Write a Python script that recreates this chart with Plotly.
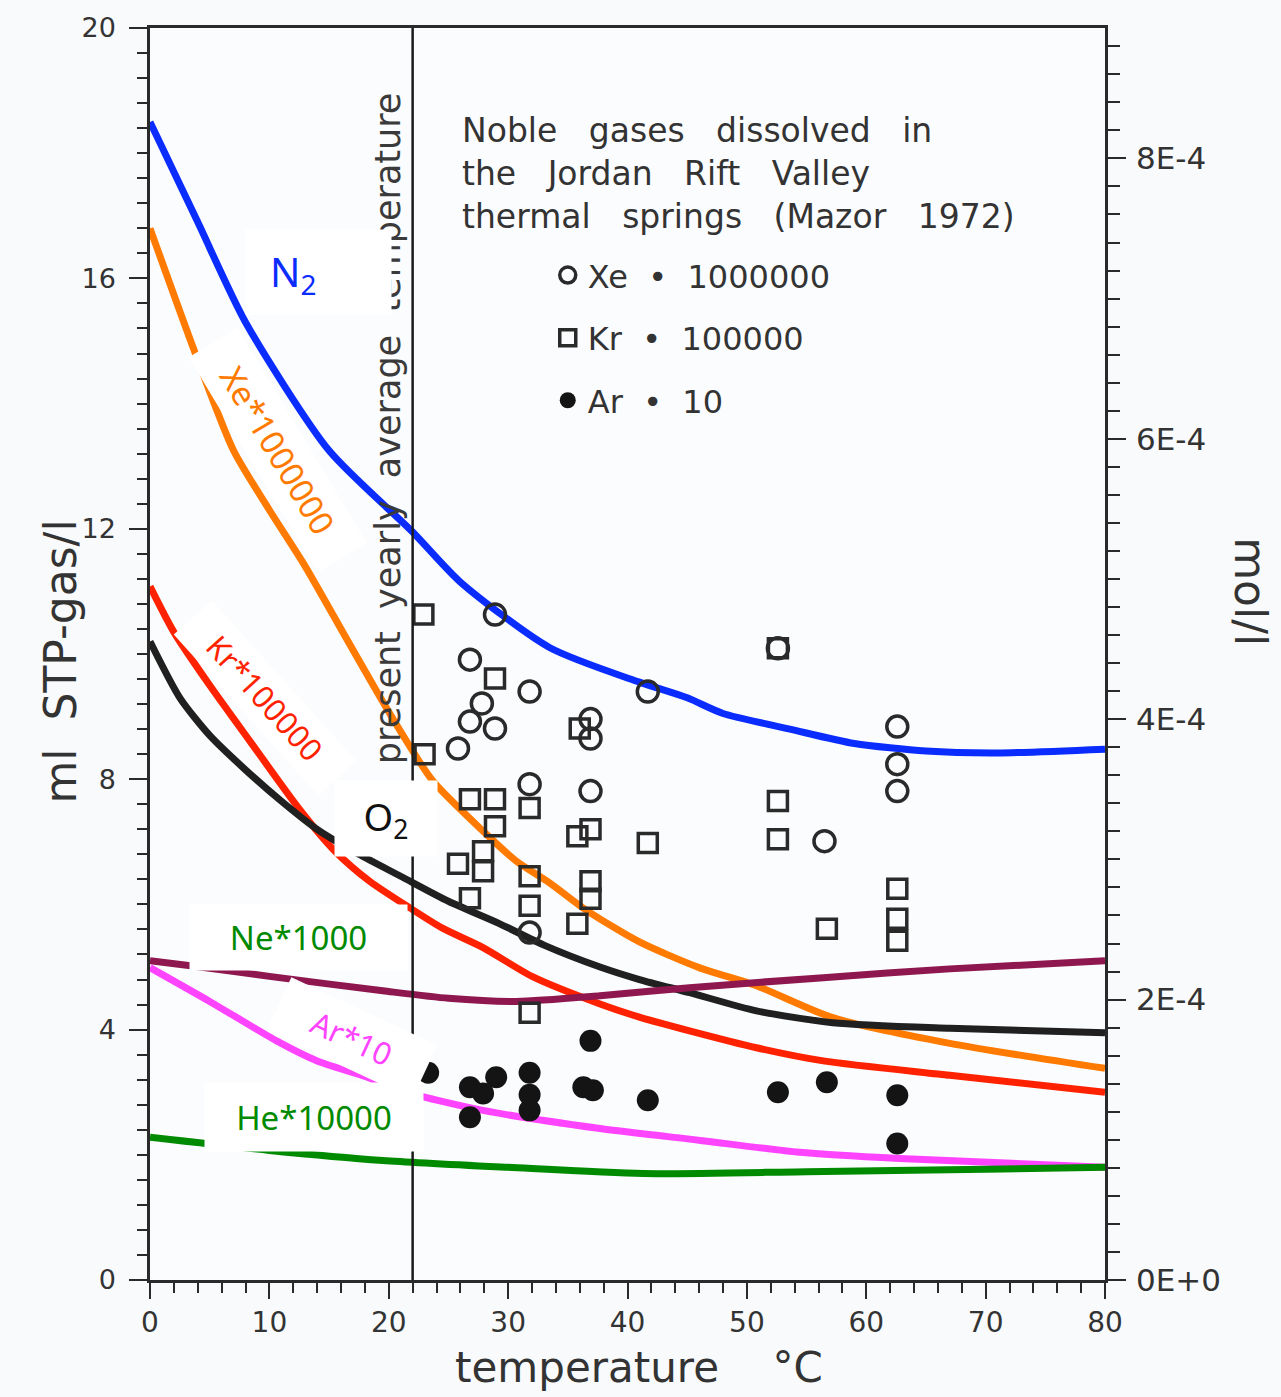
import plotly.graph_objects as go

# ---- equilibrium solubility curves (ml STP gas / l, scaled as labelled) ----
n2_t = [0, 4, 8, 15, 22, 26, 33.5, 41, 45, 48, 53.6, 59, 65, 71, 80]
n2_v = [18.5, 16.9, 15.3, 13.25, 11.95, 11.15, 10.1, 9.55, 9.3, 9.05, 8.8, 8.57, 8.45, 8.42, 8.48]

xe_t = [0, 3.8, 7, 10, 13, 16, 19, 21, 23.7, 27.9, 30.7, 33.5, 36.6, 41, 46, 50.8, 57.2, 67, 80]
xe_v = [16.8, 14.8, 13.25, 12.3, 11.4, 10.4, 9.4, 8.76, 7.97, 7.17, 6.69, 6.34, 5.9, 5.4, 4.99, 4.7, 4.19, 3.78, 3.38]

kr_t = [0, 2, 5, 8.4, 12.6, 15.5, 18.4, 21.8, 24.5, 27.9, 32, 37.7, 41, 45.2, 50.8, 56.4, 67, 80]
kr_v = [11.08, 10.35, 9.5, 8.6, 7.5, 6.85, 6.37, 5.94, 5.62, 5.31, 4.85, 4.41, 4.2, 3.98, 3.71, 3.5, 3.27, 3.0]

o2_t = [0, 2.5, 5, 8, 11, 14, 17.5, 21, 25, 29.3, 33, 37.7, 41, 45.2, 50.8, 57.2, 67, 80]
o2_v = [10.2, 9.3, 8.7, 8.15, 7.65, 7.2, 6.8, 6.45, 6.05, 5.69, 5.35, 5.0, 4.8, 4.59, 4.3, 4.11, 4.02, 3.95]

ne_t = [0, 3.4, 10, 19.5, 25, 30.7, 37.7, 45.2, 56.4, 67, 80]
ne_v = [5.1, 5.02, 4.85, 4.62, 4.5, 4.45, 4.54, 4.67, 4.83, 4.97, 5.1]

ar_t = [0, 5, 10.6, 14, 18.2, 20.9, 27.9, 37.7, 46.1, 54.4, 62.8, 80]
ar_v = [4.99, 4.45, 3.82, 3.5, 3.24, 3.03, 2.71, 2.42, 2.23, 2.04, 1.94, 1.8]

he_t = [0, 10, 19.5, 30, 41.3, 55, 70, 80]
he_v = [2.28, 2.07, 1.91, 1.8, 1.7, 1.73, 1.77, 1.8]

# ---- measured spring waters (Mazor 1972) ----
xe_obs_t = [28.9, 26.8, 31.8, 27.8, 26.8, 28.9, 25.8, 36.9, 36.9, 41.7, 36.9, 31.8, 31.8, 52.6, 62.6, 62.6, 62.6, 56.5]
xe_obs_v = [10.63, 9.91, 9.40, 9.21, 8.92, 8.81, 8.49, 8.96, 8.65, 9.40, 7.81, 7.92, 5.55, 10.09, 8.84, 8.24, 7.81, 7.01]

kr_obs_t = [22.9, 23.0, 36.0, 26.8, 28.9, 28.9, 31.8, 35.8, 36.9, 41.7, 25.8, 27.9, 27.9, 26.8, 31.8, 31.8,
            36.9, 36.9, 35.8, 31.8, 52.6, 52.6, 62.6, 56.7, 62.6, 62.6, 52.6, 28.9]
kr_obs_v = [10.63, 8.40, 8.81, 7.68, 7.68, 7.25, 7.54, 7.09, 7.20, 6.98, 6.65, 6.85, 6.53, 6.10, 6.45, 5.98,
            6.37, 6.09, 5.69, 4.27, 7.65, 7.04, 6.25, 5.61, 5.77, 5.42, 10.09, 9.61]

ar_obs_t = [23.3, 26.8, 29.0, 27.9, 26.8, 31.8, 31.8, 31.8, 36.3, 37.1, 36.9, 41.7, 52.6, 56.7, 62.6, 62.6]
ar_obs_v = [3.31, 3.08, 3.24, 2.98, 2.60, 3.31, 2.96, 2.71, 3.08, 3.03, 3.82, 2.87, 3.00, 3.16, 2.95, 2.18]

avg_temp = 22  # present yearly average temperature, °C

# right axis: mol/l, 2E-4 mol/l spans 4.48 ml/l on the left scale
mol_top = 8.93e-4
mol_ticks = [0, 2e-4, 4e-4, 6e-4, 8e-4]
mol_ticktext = ["0E+0", "2E-4", "4E-4", "6E-4", "8E-4"]

INK = "#2a2a2a"
SCAN_FONT = "DejaVu Sans"
LABEL_FONT = "Comic Sans MS, Noto Sans"

fig = go.Figure()

curves = [
    (n2_t, n2_v, "#0a2cff"),
    (xe_t, xe_v, "#ff7a00"),
    (kr_t, kr_v, "#ff2200"),
    (o2_t, o2_v, "#202020"),
    (ne_t, ne_v, "#8e1750"),
    (ar_t, ar_v, "#ff44ff"),
    (he_t, he_v, "#008a00"),
]
for t, v, c in curves:
    fig.add_trace(go.Scatter(x=t, y=v, mode="lines",
                             line=dict(color=c, width=7, shape="spline", smoothing=0.7),
                             showlegend=False, hoverinfo="skip"))

fig.add_trace(go.Scatter(x=xe_obs_t, y=xe_obs_v, mode="markers", name="Xe  •  1000000",
                         legendgroup="xe",
                         marker=dict(symbol="circle-open", size=21, color=INK, line=dict(width=3.5))))
fig.add_trace(go.Scatter(x=kr_obs_t, y=kr_obs_v, mode="markers", name="Kr  •  100000",
                         legendgroup="kr",
                         marker=dict(symbol="square-open", size=19, color=INK, line=dict(width=3.5))))
fig.add_trace(go.Scatter(x=ar_obs_t, y=ar_obs_v, mode="markers", name="Ar  •  10",
                         legendgroup="ar",
                         marker=dict(symbol="circle", size=22, color="#141414")))

# anchor trace for the mol/l axis
fig.add_trace(go.Scatter(x=[], y=[], yaxis="y2", showlegend=False, hoverinfo="skip"))

fig.add_shape(type="line", x0=avg_temp, x1=avg_temp, y0=0, y1=1, xref="x", yref="paper",
              line=dict(color="#1a1a1a", width=2.5))

TITLE_FONT = dict(family=SCAN_FONT, size=42, color="#333333")
ann = []
# vertical note along the reference line
ann.append(dict(x=19.9, y=13.6, xref="x", yref="y", xanchor="center", yanchor="middle",
                text="present  yearly  average  temperature", textangle=-90, showarrow=False,
                font=dict(family=SCAN_FONT, size=35, color="#3a3a3a")))
# figure caption
ann.append(dict(x=0.3246, y=0.935, xref="paper", yref="paper", xanchor="left", yanchor="top",
                align="left", showarrow=False,
                text="Noble   gases   dissolved   in<br>the   Jordan   Rift   Valley"
                     "<br>thermal   springs   (Mazor   1972)",
                font=dict(family=SCAN_FONT, size=33, color="#333333")))
# axis titles
ann.append(dict(x=-0.0942, y=0.494, xref="paper", yref="paper", xanchor="center", yanchor="middle",
                text="ml  STP-gas/l", textangle=-90, showarrow=False,
                font=dict(family=SCAN_FONT, size=44, color="#333333")))
ann.append(dict(x=1.152, y=0.55, xref="paper", yref="paper", xanchor="center", yanchor="middle",
                text="mol/l", textangle=90, showarrow=False,
                font=dict(family=SCAN_FONT, size=44, color="#333333")))
ann.append(dict(x=0.512, y=-0.0695, xref="paper", yref="paper", xanchor="center", yanchor="middle",
                text="temperature    °C", showarrow=False, font=TITLE_FONT))

# white tag behind the N2 label
ann.append(dict(x=14.1, y=16.1, xref="x", yref="y", text=" ", showarrow=False,
                width=143, height=82, bgcolor="white", font=dict(size=10)))
ann.append(dict(x=12.0, y=16.08, xref="x", yref="y", text="N<sub>2</sub>", showarrow=False,
                font=dict(family=LABEL_FONT, size=40, color="#0a2cff")))

# coloured curve labels on white tags
labels = [
    ("Xe*1000000", 10.7, 13.26, 59, 250, 56, 33, "#ff7a00"),
    ("Kr*100000", 9.63, 9.29, 48, 215, 50, 31, "#ff2200"),
    ("O<sub>2</sub>", 19.8, 7.38, 0, 102, 75, 38, "#111111"),
    ("Ne*1000", 12.4, 5.47, 0, 217, 65, 33, "#008a00"),
    ("Ar*10", 16.9, 3.87, 25, 160, 58, 31, "#ff44ff"),
    ("He*10000", 13.7, 2.61, 0, 218, 68, 33, "#008a00"),
]
for text, x, y, ang, w, h, fs, col in labels:
    ann.append(dict(x=x, y=y, xref="x", yref="y", text=text, textangle=ang, showarrow=False,
                    width=w, height=h, bgcolor="white", borderpad=0,
                    font=dict(family=LABEL_FONT, size=fs, color=col)))

fig.update_layout(
    width=1281, height=1397,
    margin=dict(l=150, r=176, t=25, b=117),
    paper_bgcolor="#f9fafb", plot_bgcolor="#fbfcfd",
    annotations=ann,
    showlegend=True,
    legend=dict(x=0.4165, y=0.8245, xanchor="left", yanchor="top", bgcolor="rgba(0,0,0,0)",
                font=dict(family=SCAN_FONT, size=32, color="#333333"),
                traceorder="grouped", tracegroupgap=18, itemwidth=30),
    xaxis=dict(range=[0, 80], tickvals=list(range(0, 81, 10)), ticks="outside", ticklen=16,
               tickwidth=2, tickcolor=INK, showline=True, linewidth=2.5, linecolor=INK, mirror=True,
               showgrid=False, zeroline=False,
               tickfont=dict(family=SCAN_FONT, size=28, color="#333333"),
               minor=dict(dtick=2, ticks="outside", ticklen=10, tickwidth=2, tickcolor=INK)),
    yaxis=dict(range=[0, 20], tickvals=[0, 4, 8, 12, 16, 20], ticks="outside", ticklen=18,
               tickwidth=2, tickcolor=INK, showline=True, linewidth=2.5, linecolor=INK,
               showgrid=False, zeroline=False, ticklabelstandoff=8,
               tickfont=dict(family=SCAN_FONT, size=27, color="#333333"),
               minor=dict(dtick=0.4, ticks="outside", ticklen=10, tickwidth=2, tickcolor=INK)),
    yaxis2=dict(range=[0, mol_top], overlaying="y", side="right", tickvals=mol_ticks,
                ticktext=mol_ticktext, ticks="outside", ticklen=18, tickwidth=2, tickcolor=INK,
                showline=True, linewidth=2.5, linecolor=INK, showgrid=False, zeroline=False,
                ticklabelstandoff=4,
                tickfont=dict(family=SCAN_FONT, size=31, color="#333333"),
                minor=dict(dtick=2e-5, ticks="outside", ticklen=12, tickwidth=2, tickcolor=INK)),
)

fig.write_html("out.html")
